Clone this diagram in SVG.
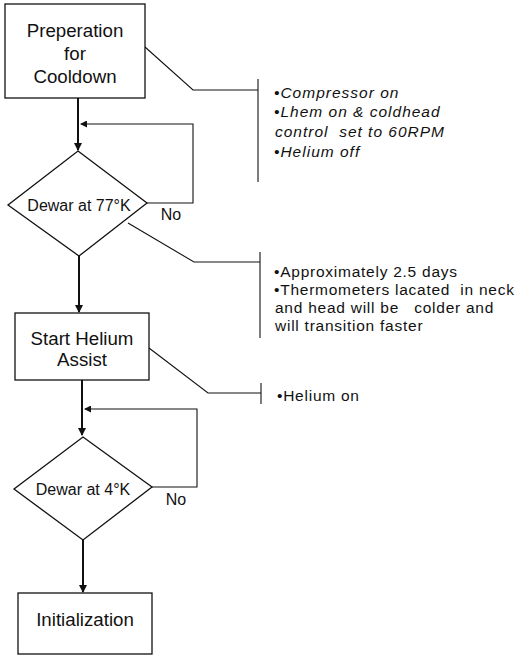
<svg xmlns="http://www.w3.org/2000/svg" width="520" height="657" viewBox="0 0 520 657">
<style>
.box{fill:#fff;stroke:#111;stroke-width:1.3}
.t{font-family:"Liberation Sans",Arial,sans-serif;font-size:18.7px;fill:#111;text-anchor:middle}
.d{font-family:"Liberation Sans",Arial,sans-serif;font-size:16px;fill:#111;text-anchor:middle}
.n{font-family:"Liberation Sans",Arial,sans-serif;font-size:15.5px;letter-spacing:0.75px;fill:#111}
.it{font-style:italic;letter-spacing:1px}
.main{fill:none;stroke:#111;stroke-width:2}
.thin{fill:none;stroke:#111;stroke-width:1.1}
</style>
<defs>
<marker id="ah" markerWidth="8" markerHeight="8" refX="7" refY="4" orient="auto" markerUnits="userSpaceOnUse">
<path d="M0,0 L8,4 L0,8 Z" fill="#111"/>
</marker>
<marker id="ahs" markerWidth="7" markerHeight="7" refX="6" refY="3.5" orient="auto" markerUnits="userSpaceOnUse">
<path d="M0,0 L7,3.5 L0,7 Z" fill="#111"/>
</marker>
</defs>
<g id="connectors">
<path class="main" d="M78,98 L78,150" marker-end="url(#ah)"/>
<path class="thin" d="M147,203 L193,203 L193,124 L81,124" marker-end="url(#ahs)"/>
<path class="main" d="M79,256 L79,312" marker-end="url(#ah)"/>
<path class="main" d="M82,380 L82,435" marker-end="url(#ah)"/>
<path class="thin" d="M152,487 L197,487 L197,409 L85,409" marker-end="url(#ahs)"/>
<path class="main" d="M83,540 L83,592" marker-end="url(#ah)"/>
<path class="thin" d="M145,47 L193,90 L258,90"/>
<path class="thin" d="M258,79 L258,182"/>
<path class="thin" d="M128,223 L194,262 L260,262"/>
<path class="thin" d="M260,252 L260,338"/>
<path class="thin" d="M149,348 L208,393 L261,393"/>
<path class="thin" d="M261,383 L261,404"/>
</g>
<g id="prep">
<rect class="box" x="5" y="4" width="140" height="94"/>
<text class="t" x="75" y="37">Preperation</text>
<text class="t" x="75" y="60">for</text>
<text class="t" x="75" y="83">Cooldown</text>
</g>
<g id="dewar77">
<polygon class="box" points="78,151 147,203 79,256 8,205"/>
<text class="d" x="79" y="211">Dewar at 77°K</text>
<text class="d" x="171" y="220">No</text>
</g>
<g id="helium-assist">
<rect class="box" x="15" y="313" width="134" height="67"/>
<text class="t" x="82" y="345">Start Helium</text>
<text class="t" x="82" y="366">Assist</text>
</g>
<g id="dewar4">
<polygon class="box" points="83,437 152,487 83,540 14,489"/>
<text class="d" x="83" y="495">Dewar at 4°K</text>
<text class="d" x="176" y="505">No</text>
</g>
<g id="init">
<rect class="box" x="18" y="593" width="134" height="61"/>
<text class="t" x="85" y="626">Initialization</text>
</g>
<g id="note1">
<text class="n it" x="274" y="98">•Compressor on</text>
<text class="n it" x="274" y="117">•Lhem on &amp; coldhead</text>
<text class="n it" x="275" y="137" xml:space="preserve">control  set to 60RPM</text>
<text class="n it" x="274" y="157">•Helium off</text>
</g>
<g id="note2">
<text class="n" x="274" y="277">•Approximately 2.5 days</text>
<text class="n" x="274" y="295" xml:space="preserve">•Thermometers lacated  in neck</text>
<text class="n" x="275" y="313" xml:space="preserve">and head will be   colder and</text>
<text class="n" x="275" y="331">will transition faster</text>
</g>
<g id="note3">
<text class="n" x="277" y="401">•Helium on</text>
</g>
</svg>
